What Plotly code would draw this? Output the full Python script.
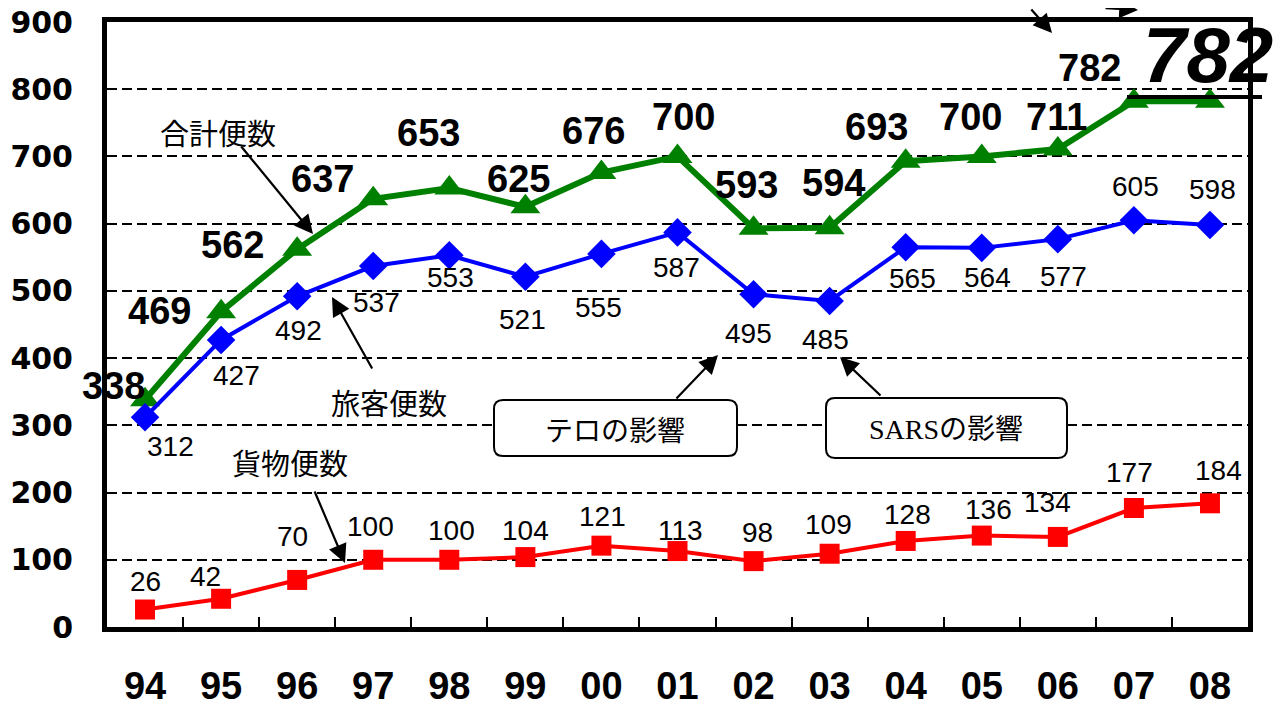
import plotly.graph_objects as go

years = ["94", "95", "96", "97", "98", "99", "00", "01", "02", "03", "04", "05", "06", "07", "08"]
total = [338, 469, 562, 637, 653, 625, 676, 700, 593, 594, 693, 700, 711, 782, 782]
passenger = [312, 427, 492, 537, 553, 521, 555, 587, 495, 485, 565, 564, 577, 605, 598]
cargo = [26, 42, 70, 100, 100, 104, 121, 113, 98, 109, 128, 136, 134, 177, 184]
y_ticks = [0, 100, 200, 300, 400, 500, 600, 700, 800, 900]

# label offsets in pixels (dx right, dy down) relative to each point
total_off = [(-32, -14), (-62, -1), (-65, -4), (-51, -20), (-21, -55), (-7, -28), (-8, -42),
             (6, -39), (-7, -43), (4, -45), (-29, -34), (-11, -39), (-1, -32), (-44, -33), (-2, -46)]
pass_off = [(25, 29), (15, 36), (1, 34), (3, 36), (1, 22), (-3, 43), (-3, 54), (-1, 35),
            (-5, 39), (-4, 39), (7, 31), (6, 30), (6, 37), (2, -34), (3, -36)]
cargo_off = [(0, -28), (-16, -22), (-5, -43), (-3, -33), (2, -29), (0, -27), (1, -29), (3, -21),
             (4, -29), (-1, -29), (2, -26), (7, -26), (-10, -34), (-4, -36), (9, -33)]

GREEN = "#008000"
BLUE = "#0000FF"
RED = "#FF0000"
SANS = "Liberation Sans, Arial, Noto Sans CJK JP"
CJK = "Noto Sans CJK JP, sans-serif"

OFF = 8  # page body margin
W, H = 1285 - OFF, 704 - OFF
ML, MR, MT, MB = 107 - OFF, 37, 22 - OFF, 77
PW, PH = W - ML - MR, H - MT - MB
SL, ST = ML + OFF, MT + OFF  # plot-area left/top on screen

idx = list(range(len(years)))

fig = go.Figure()
fig.add_trace(go.Scatter(x=idx, y=total, mode="lines+markers",
                         line=dict(color=GREEN, width=6),
                         marker=dict(symbol="triangle-up", size=26, color=GREEN),
                         cliponaxis=False, showlegend=False))
fig.add_trace(go.Scatter(x=idx, y=passenger, mode="lines+markers",
                         line=dict(color=BLUE, width=4),
                         marker=dict(symbol="diamond", size=22, color=BLUE),
                         cliponaxis=False, showlegend=False))
fig.add_trace(go.Scatter(x=idx, y=cargo, mode="lines+markers",
                         line=dict(color=RED, width=4),
                         marker=dict(symbol="square", size=20, color=RED),
                         cliponaxis=False, showlegend=False))

ann = []
for i, v in enumerate(total):
    dx, dy = total_off[i]
    if i == len(years) - 1:
        txt = "<b><i>%d</i></b>" % v
        fnt = dict(family=SANS, size=78, color="black")
    else:
        txt = "<b>%d</b>" % v
        fnt = dict(family=SANS, size=38, color="black")
    ann.append(dict(x=i, y=v, text=txt, showarrow=False, xshift=dx, yshift=-dy,
                    xanchor="center", yanchor="middle", font=fnt))
for i, v in enumerate(passenger):
    dx, dy = pass_off[i]
    ann.append(dict(x=i, y=v, text=str(v), showarrow=False, xshift=dx, yshift=-dy,
                    xanchor="center", yanchor="middle",
                    font=dict(family=SANS, size=28, color="black")))
for i, v in enumerate(cargo):
    dx, dy = cargo_off[i]
    ann.append(dict(x=i, y=v, text=str(v), showarrow=False, xshift=dx, yshift=-dy,
                    xanchor="center", yanchor="middle",
                    font=dict(family=SANS, size=28, color="black")))


def paper(px, py):
    return (px - SL) / PW, (ST + PH - py) / PH


def arrow(tip, tail):
    x, y = paper(*tip)
    return dict(x=x, y=y, xref="paper", yref="paper", text="", showarrow=True,
                ax=tail[0] - tip[0], ay=tail[1] - tip[1],
                arrowhead=2, arrowsize=1.7, arrowwidth=2.2, arrowcolor="black")


ann += [
    arrow((313, 234), (240, 145)),
    arrow((332, 297), (373, 370)),
    arrow((345, 563), (314, 490)),
    arrow((718, 355), (675, 400)),
    arrow((840, 357), (882, 397)),
    arrow((1052, 33), (1030, -4)),
    arrow((1138, 10), (1104, -4)),
]


def txt_at(px, py, text, family=CJK, size=29):
    x, y = paper(px, py)
    return dict(x=x, y=y, xref="paper", yref="paper", text=text, showarrow=False,
                xanchor="center", yanchor="middle",
                font=dict(family=family, size=size, color="black"))


ann += [
    txt_at(218, 132, "合計便数"),
    txt_at(389, 402, "旅客便数"),
    txt_at(290, 462, "貨物便数"),
    txt_at(615, 429, "テロの影響", size=28),
    txt_at(946, 429, "SARSの影響", family="Liberation Serif, Noto Sans CJK JP", size=28),
]


def rounded_box(x0, y0, x1, y1, r=9):
    def P(px, py):
        a, b = paper(px, py)
        return "%.5f,%.5f" % (a, b)
    path = ("M " + P(x0 + r, y0) + " L " + P(x1 - r, y0) + " Q " + P(x1, y0) + " " + P(x1, y0 + r) +
            " L " + P(x1, y1 - r) + " Q " + P(x1, y1) + " " + P(x1 - r, y1) +
            " L " + P(x0 + r, y1) + " Q " + P(x0, y1) + " " + P(x0, y1 - r) +
            " L " + P(x0, y0 + r) + " Q " + P(x0, y0) + " " + P(x0 + r, y0) + " Z")
    return dict(type="path", path=path, xref="paper", yref="paper",
                line=dict(color="black", width=2), fillcolor="white", layer="above")


lx0, ly = paper(1127, 97)
lx1, _ = paper(1262, 97)
shapes = [
    rounded_box(494, 400, 737, 456),
    rounded_box(826, 398, 1067, 458),
    dict(type="line", xref="paper", yref="paper", x0=lx0, x1=lx1, y0=ly, y1=ly,
         line=dict(color="black", width=4), layer="above"),
]

fig.update_layout(
    width=W, height=H,
    margin=dict(l=ML, r=MR, t=MT, b=MB, autoexpand=False),
    paper_bgcolor="white", plot_bgcolor="white",
    annotations=ann, shapes=shapes,
    font=dict(family=SANS, color="black"),
)
fig.update_xaxes(
    range=[-0.5, len(years) - 0.5], automargin=False,
    tickvals=idx, ticktext=years,
    showgrid=False, zeroline=False,
    showline=True, linecolor="black", linewidth=5, mirror=True,
    ticks="", ticklabeloverflow="allow",
    tickfont=dict(family=SANS, size=38, color="black", weight="bold"),
    ticklabelstandoff=21,
    minor=dict(tickvals=[i + 0.5 for i in idx[:-1]], ticks="inside", ticklen=10,
               tickwidth=2, tickcolor="black", showgrid=False),
)
fig.update_yaxes(
    range=[0, 900], tickvals=y_ticks, ticktext=[str(t) for t in y_ticks], automargin=False,
    showgrid=True, gridcolor="black", gridwidth=2, griddash="10px,5px",
    zeroline=False, ticklabeloverflow="allow",
    showline=True, linecolor="black", linewidth=5, mirror=True,
    ticks="", tickfont=dict(family="DejaVu Sans", size=30, color="black", weight="bold"),
    ticklabelstandoff=23,
)

fig.write_html("out.html")
